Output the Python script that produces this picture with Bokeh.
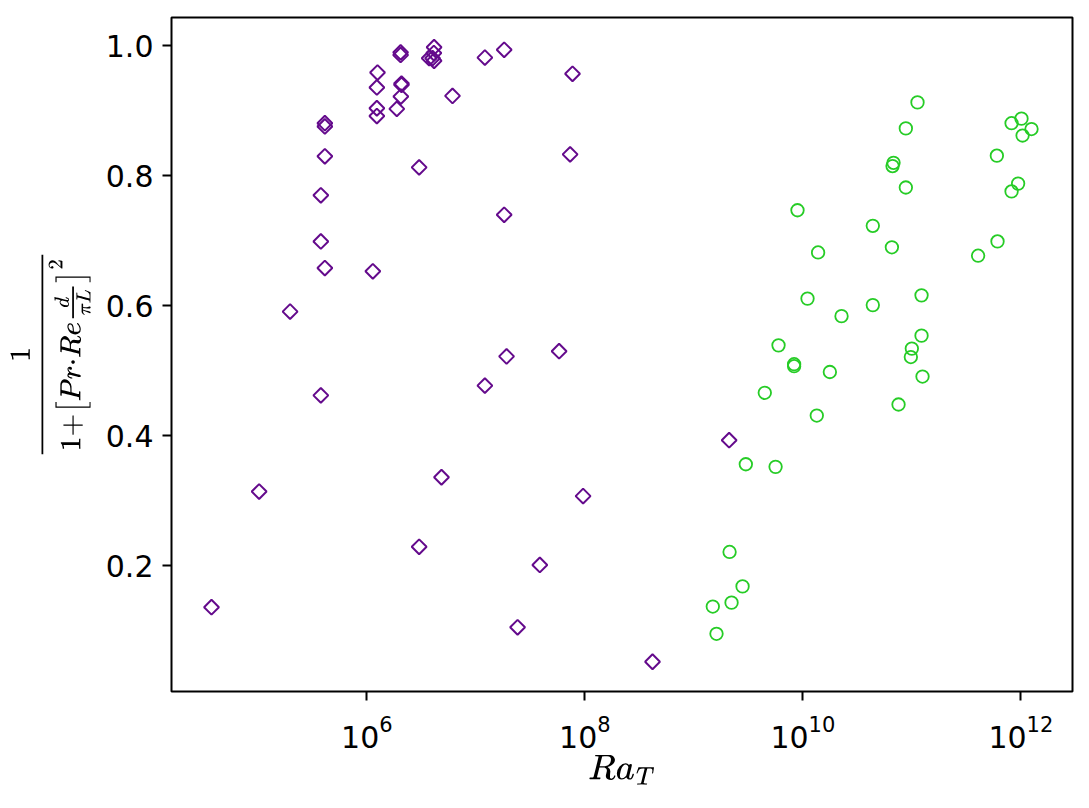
import numpy as np
from bokeh.plotting import figure
from bokeh.models import Range1d, FixedTicker, TeX, ColumnDataSource
from bokeh.embed import file_html
from bokeh.resources import INLINE

# Purple diamonds: log10(Ra_T) and y value
purple_logra = [6.31, 6.31, 6.617, 6.615, 6.603, 6.572, 6.617, 7.083, 7.26, 7.887,
                6.098, 6.092, 6.318, 6.318, 6.312, 6.786, 6.092, 6.092, 6.275,
                5.615, 5.615, 5.615, 7.865, 6.48, 5.578, 7.26, 5.578, 5.615, 6.055,
                5.296, 5.578, 7.083, 7.282, 7.764, 5.012, 6.685, 7.984, 6.48,
                7.587, 7.383, 4.575, 9.324, 8.621]
purple_y = [0.990, 0.986, 0.998, 0.989, 0.981, 0.981, 0.977, 0.982, 0.994, 0.957,
            0.959, 0.936, 0.942, 0.940, 0.922, 0.923, 0.904, 0.892, 0.903,
            0.881, 0.876, 0.830, 0.833, 0.813, 0.770, 0.740, 0.699, 0.658, 0.653,
            0.591, 0.462, 0.477, 0.522, 0.530, 0.314, 0.336, 0.307, 0.229,
            0.201, 0.105, 0.136, 0.393, 0.052]

# Green circles
green_logra = [11.052, 10.945, 11.915, 12.006, 12.098, 12.016, 11.78, 10.832, 10.823,
               10.945, 11.975, 11.915, 9.951, 10.642, 10.817, 10.14, 11.786, 11.608,
               10.043, 11.089, 10.355, 10.642, 11.089, 9.777, 11.0, 9.92, 9.92,
               10.991, 10.248, 11.098, 9.651, 10.128, 10.878, 9.477, 9.75, 9.328,
               9.447, 9.346, 9.174, 9.208]
green_y = [0.913, 0.873, 0.881, 0.888, 0.872, 0.862, 0.831, 0.820, 0.815,
           0.782, 0.788, 0.776, 0.747, 0.723, 0.690, 0.682, 0.699, 0.677,
           0.611, 0.616, 0.584, 0.601, 0.554, 0.539, 0.534, 0.510, 0.507,
           0.521, 0.498, 0.491, 0.466, 0.431, 0.448, 0.356, 0.352, 0.221,
           0.168, 0.143, 0.137, 0.095]

x_ticks = [1e6, 1e8, 1e10, 1e12]
y_ticks = [0.2, 0.4, 0.6, 0.8, 1.0]
y_tick_labels = {0.2: "0.2", 0.4: "0.4", 0.6: "0.6", 0.8: "0.8", 1.0: "1.0"}

purple_src = ColumnDataSource(dict(x=[10 ** v for v in purple_logra], y=purple_y))
green_src = ColumnDataSource(dict(x=[10 ** v for v in green_logra], y=green_y))

p = figure(x_axis_type="log", output_backend="svg", toolbar_location=None,
           frame_width=901, frame_height=674,
           min_border_left=171, min_border_top=17, min_border_right=17, min_border_bottom=116,
           x_range=Range1d(10 ** 4.208, 10 ** 12.474), y_range=Range1d(0.0062, 1.0437))

p.scatter("x", "y", source=purple_src, marker="square", angle=np.pi / 4, size=10.5,
          fill_color=None, line_color="#640a8c", line_width=2)
p.scatter("x", "y", source=green_src, marker="circle", size=12.5,
          fill_color=None, line_color="#26cc26", line_width=1.8)

p.xgrid.visible = False
p.ygrid.visible = False
p.outline_line_color = "black"
p.outline_line_width = 2
p.outline_line_alpha = 1

p.xaxis.ticker = FixedTicker(ticks=x_ticks, minor_ticks=[])
p.yaxis.ticker = FixedTicker(ticks=y_ticks, minor_ticks=[])
p.yaxis.major_label_overrides = y_tick_labels

for ax in (p.xaxis, p.yaxis):
    ax.axis_line_color = None
    ax.major_tick_in = 0
    ax.major_tick_out = 9
    ax.major_tick_line_width = 2
    ax.major_tick_line_color = "black"
    ax.minor_tick_line_color = None
    ax.major_label_text_font = "DejaVu Sans"
    ax.major_label_text_font_size = "30px"
    ax.major_label_text_color = "black"
    ax.axis_label_text_color = "black"
    ax.axis_label_text_font_style = "normal"

p.xaxis.axis_label_text_font_size = "30px"
p.yaxis.axis_label_text_font_size = "24px"
p.yaxis.major_label_standoff = 9
p.xaxis.major_label_standoff = 14
p.xaxis.axis_label = TeX(text=r"Ra_T")
p.yaxis.axis_label = TeX(text=r"\frac{1}{1{+}\left[Pr{\cdot}Re\frac{d}{\pi L}\right]^2}")
p.xaxis.axis_label_standoff = 4
p.yaxis.axis_label_standoff = 12

open("out.html", "w").write(file_html(p, INLINE))
